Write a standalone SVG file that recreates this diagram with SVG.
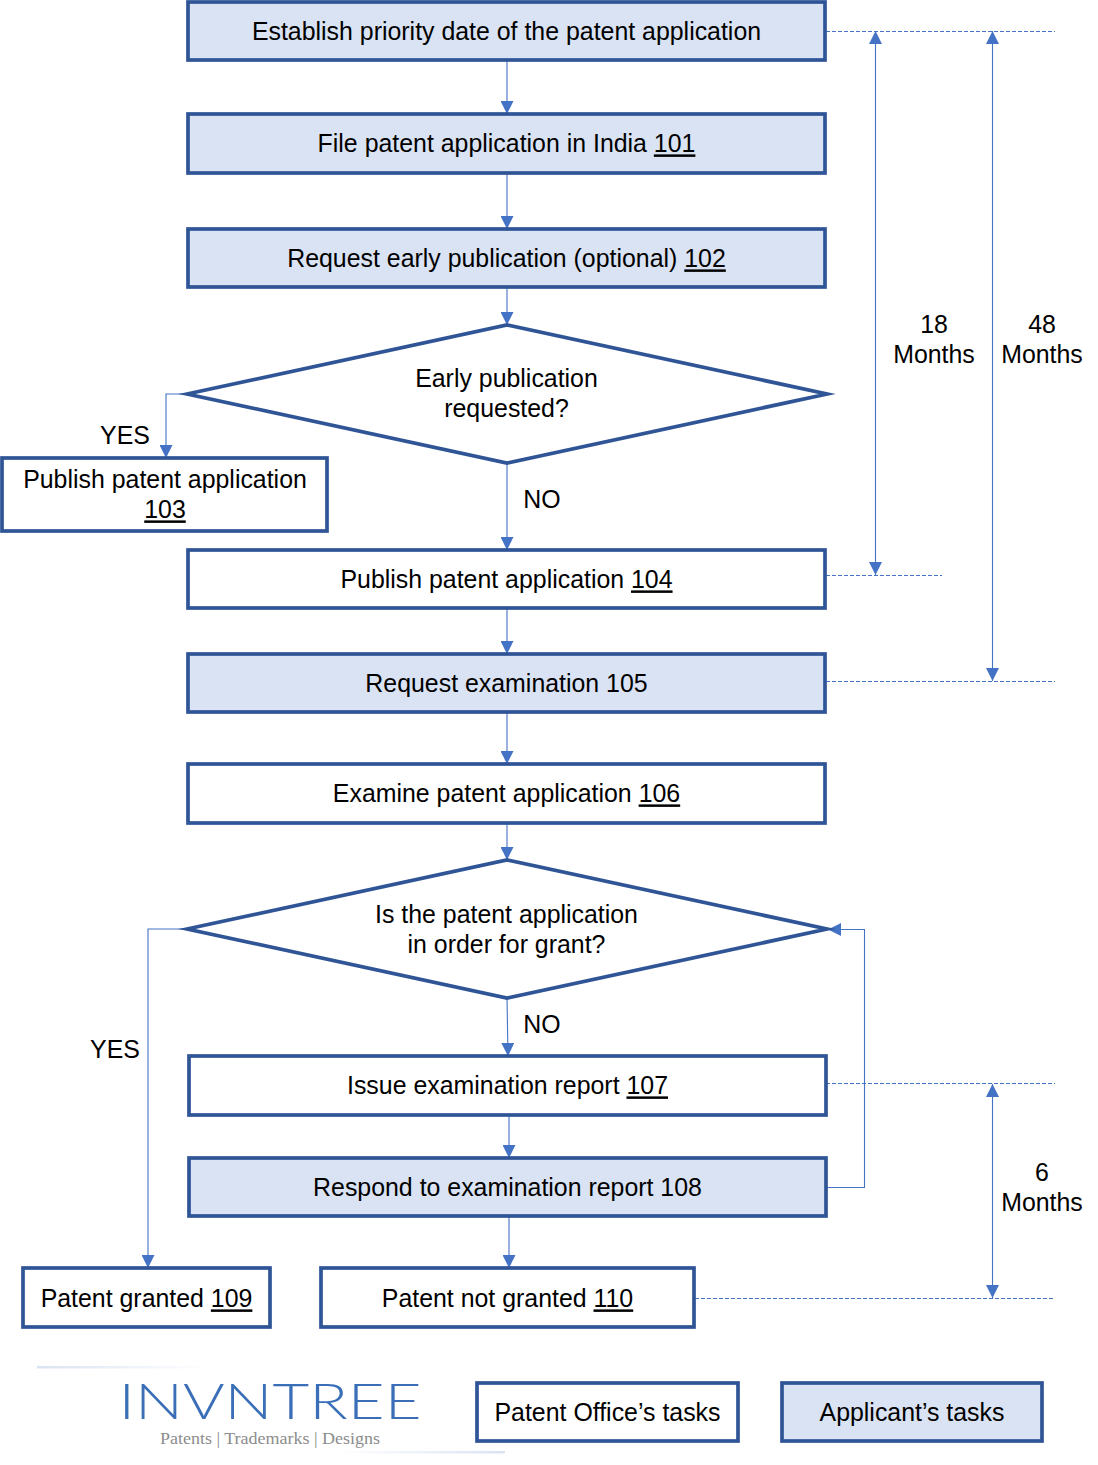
<svg xmlns="http://www.w3.org/2000/svg" width="1098" height="1465" viewBox="0 0 1098 1465">
<style>
text{font-family:"Liberation Sans",Arial,sans-serif;font-size:24.9px;fill:#000;text-anchor:middle}
.b{fill:#fff;stroke:#2F5597;stroke-width:3.7;stroke-miterlimit:10}
.a{fill:#DAE3F3;stroke:#2F5597;stroke-width:3.7}
.c{fill:none;stroke:#4472C4;stroke-width:1.1}
.d{fill:none;stroke:#4472C4;stroke-width:1;stroke-dasharray:4 2}
.u{text-decoration:underline}
</style>
<defs>
<marker id="ah" markerUnits="userSpaceOnUse" markerWidth="13" markerHeight="13" refX="12" refY="6" orient="auto-start-reverse" viewBox="0 0 12 12"><path d="M0 0L12 6L0 12Z" fill="#4472C4"/></marker>
<linearGradient id="f1" x1="0" x2="1" y1="0" y2="0"><stop offset="0" stop-color="#DAE3F3"/><stop offset="1" stop-color="#DAE3F3" stop-opacity="0"/></linearGradient>
<linearGradient id="f2" x1="1" x2="0" y1="0" y2="0"><stop offset="0" stop-color="#DAE3F3"/><stop offset="1" stop-color="#DAE3F3" stop-opacity="0"/></linearGradient>
</defs>
<g id="connectors">
<path class="c" marker-end="url(#ah)" d="M507 60V114"/>
<path class="c" marker-end="url(#ah)" d="M507 173V229"/>
<path class="c" marker-end="url(#ah)" d="M507 287V325"/>
<path class="c" marker-end="url(#ah)" d="M186 394H166V458"/>
<path class="c" marker-end="url(#ah)" d="M507 463V550"/>
<path class="c" marker-end="url(#ah)" d="M507 608V654"/>
<path class="c" marker-end="url(#ah)" d="M507 712V764"/>
<path class="c" marker-end="url(#ah)" d="M507 823V860"/>
<path class="c" marker-end="url(#ah)" d="M186 929H148V1268"/>
<path class="c" marker-end="url(#ah)" d="M507 998L508 1056"/>
<path class="c" marker-end="url(#ah)" d="M509 1115V1158"/>
<path class="c" marker-end="url(#ah)" d="M509 1216V1268"/>
<path class="c" marker-end="url(#ah)" d="M826 1187.500H864.500V929.500H828"/>
<path class="c" marker-start="url(#ah)" marker-end="url(#ah)" d="M875.500 31V575"/>
<path class="c" marker-start="url(#ah)" marker-end="url(#ah)" d="M992.500 31V681"/>
<path class="c" marker-start="url(#ah)" marker-end="url(#ah)" d="M992.500 1084V1298"/>
<path class="d" d="M826 31.500H1055"/>
<path class="d" d="M826 575.500H942"/>
<path class="d" d="M826 681.500H1055"/>
<path class="d" d="M826 1083.500H1055"/>
<path class="d" d="M695 1298.500H1055"/>
</g>
<g id="n-priority"><rect class="a" x="188" y="2" width="637" height="58"/><text x="506.500" y="40.400">Establish priority date of the patent application</text></g>
<g id="n101"><rect class="a" x="188" y="114" width="637" height="59"/><text x="506.500" y="152.400">File patent application in India <tspan class="u">101</tspan></text></g>
<g id="n102"><rect class="a" x="188" y="229" width="637" height="58"/><text x="506.500" y="267.400">Request early publication (optional) <tspan class="u">102</tspan></text></g>
<g id="d-early"><path class="b" d="M187 394L507 325L827 394L507 463Z"/><text x="506.500" y="387.400">Early publication</text><text x="506.500" y="417.400">requested?</text></g>
<g id="n103"><rect class="b" x="2" y="458" width="325" height="73"/><text x="165" y="488.400">Publish patent application</text><text x="165" y="518.400" class="u">103</text></g>
<g id="n104"><rect class="b" x="188" y="550" width="637" height="58"/><text x="506.500" y="588.400">Publish patent application <tspan class="u">104</tspan></text></g>
<g id="n105"><rect class="a" x="188" y="654" width="637" height="58"/><text x="506.500" y="692.400">Request examination 105</text></g>
<g id="n106"><rect class="b" x="188" y="764" width="637" height="59"/><text x="506.500" y="802.400">Examine patent application <tspan class="u">106</tspan></text></g>
<g id="d-order"><path class="b" d="M187 929L507 860L827 929L507 998Z"/><text x="506.500" y="923.400">Is the patent application</text><text x="506.500" y="953.400">in order for grant?</text></g>
<g id="n107"><rect class="b" x="189" y="1056" width="637" height="59"/><text x="507.500" y="1094.400">Issue examination report <tspan class="u">107</tspan></text></g>
<g id="n108"><rect class="a" x="189" y="1158" width="637" height="58"/><text x="507.500" y="1196.400">Respond to examination report 108</text></g>
<g id="n109"><rect class="b" x="23" y="1268" width="247" height="59"/><text x="146.500" y="1307.400">Patent granted <tspan class="u">109</tspan></text></g>
<g id="n110"><rect class="b" x="321" y="1268" width="373" height="59"/><text x="507.500" y="1307.400">Patent not granted <tspan class="u">110</tspan></text></g>
<g id="labels">
<text x="125" y="444.400">YES</text>
<text x="542" y="508.400">NO</text>
<text x="115" y="1058.400">YES</text>
<text x="542" y="1033.400">NO</text>
<text x="934" y="333.400">18</text><text x="934" y="363.400">Months</text>
<text x="1042" y="333.400">48</text><text x="1042" y="363.400">Months</text>
<text x="1042" y="1181.400">6</text><text x="1042" y="1211.400">Months</text>
</g>
<g id="legend-office"><rect class="b" x="477" y="1383" width="261" height="58"/><text x="607.500" y="1421.400">Patent Office’s tasks</text></g>
<g id="legend-applicant"><rect class="a" x="782" y="1383" width="260" height="58"/><text x="912" y="1421.400">Applicant’s tasks</text></g>
<g id="logo">
<rect x="37" y="1366" width="173" height="2.500" fill="url(#f1)"/>
<rect x="335" y="1451" width="170" height="2.500" fill="url(#f2)"/>
<text x="270" y="1419" textLength="303" lengthAdjust="spacingAndGlyphs" style="font-family:Lato,'Liberation Sans',sans-serif;font-weight:300;font-size:49px;fill:#3A6FB8">INVNTREE</text>
<text x="270" y="1444" textLength="220" lengthAdjust="spacingAndGlyphs" style="font-family:'Liberation Serif',serif;font-size:16px;fill:#8C8C8C">Patents | Trademarks | Designs</text>
</g>
</svg>
